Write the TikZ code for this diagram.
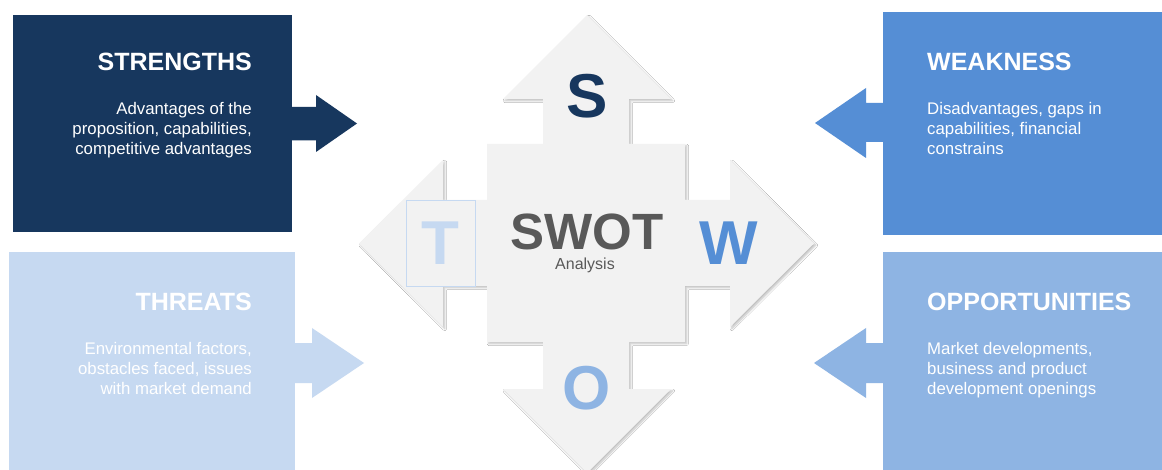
\documentclass[tikz,border=0pt]{standalone}
\usepackage{fontspec}
\setmainfont{Liberation Sans}
\usetikzlibrary{shadows.blur}
\definecolor{cS}{HTML}{17375E}
\definecolor{cW}{HTML}{558ED5}
\definecolor{cT}{HTML}{C6D9F1}
\definecolor{cO}{HTML}{8EB4E3}
\definecolor{crossfill}{HTML}{F2F2F2}
\definecolor{swotgray}{HTML}{595959}
\begin{document}
\begin{tikzpicture}[x=1pt,y=-1pt,
  box/.style={inner sep=0pt, anchor=north west},
  title/.style={font=\fontsize{25}{30}\selectfont\bfseries, text=white, inner sep=0pt},
  body/.style={font=\fontsize{16.8}{20.2}\selectfont, text=white, inner sep=0pt},
  letter/.style={font=\fontsize{62}{70}\selectfont\bfseries, inner sep=0pt},
  crossshape/.style={fill=crossfill, blur shadow={shadow xshift=1.8pt, shadow yshift=-1.8pt, shadow blur steps=6, shadow opacity=25, shadow blur radius=1.8pt}}]

\useasboundingbox[fill=white] (0,0) rectangle (1162,470);

% boxes
\node[box, fill=cS, minimum width=279pt, minimum height=217pt] (sbox) at (13,15) {};
\node[box, fill=cW, minimum width=279pt, minimum height=223pt] (wbox) at (883,12) {};
\node[box, fill=cT, minimum width=286pt, minimum height=218pt] (tbox) at (9,252) {};
\node[box, fill=cO, minimum width=279pt, minimum height=218pt] (obox) at (883,252) {};

% box arrows
\fill[cS] (291,107) -- (316,107) -- (316,95) -- (357,123.5) -- (316,152) -- (316,140.5) -- (291,140.5) -- cycle;
\fill[cW] (884,103) -- (866,103) -- (866,88) -- (815,123) -- (866,158) -- (866,142) -- (884,142) -- cycle;
\fill[cT] (294,343) -- (312,343) -- (312,328) -- (364,363) -- (312,398) -- (312,383) -- (294,383) -- cycle;
\fill[cO] (884,343) -- (866,343) -- (866,328) -- (814,363) -- (866,398) -- (866,383) -- (884,383) -- cycle;

% box texts
\node[title, anchor=base east] (stitle) at (252,71) {STRENGTHS};
\node[body, align=right, anchor=north east] (sbody) at (252,102) {Advantages of the\\proposition, capabilities,\\competitive advantages};
\node[title, anchor=base west] (wtitle) at (927,71) {WEAKNESS};
\node[body, align=left, anchor=north west] (wbody) at (927,102) {Disadvantages, gaps in\\capabilities, financial\\constrains};
\node[title, anchor=base east] (ttitle) at (252,311) {THREATS};
\node[body, align=right, anchor=north east] (tbody) at (252,342) {Environmental factors,\\obstacles faced, issues\\with market demand};
\node[title, anchor=base west] (otitle) at (927,311) {OPPORTUNITIES};
\node[body, align=left, anchor=north west] (obody) at (927,342) {Market developments,\\business and product\\development openings};

% central cross
\path[crossshape] (587,15) -- (671,99) -- (629,99) -- (629,144) -- (685,144) -- (685,200)
  -- (730,200) -- (730,160) -- (814,243.5) -- (730,327) -- (730,286) -- (685,286)
  -- (685,342) -- (629,342) -- (629,389) -- (671,389) -- (587,473) -- (503,389)
  -- (543,389) -- (543,342) -- (487,342) -- (487,286) -- (443,286) -- (443,327)
  -- (359,243.5) -- (443,160) -- (443,200) -- (487,200) -- (487,144) -- (543,144)
  -- (543,99) -- (503,99) -- cycle;

% T square
\node[draw=cT, line width=0.6pt, minimum width=69pt, minimum height=86pt, inner sep=0pt] (tsq) at (440.5,243) {};

% letters
\node[letter, text=cS] (lS) at (587,96.5) {S};
\node[letter, text=cW] (lW) at (729,243.5) {W};
\node[letter, text=cO] (lO) at (587,388.5) {O};
\node[letter, text=cT] (lT) at (440,243.5) {T};

\node[font=\fontsize{51}{60}\selectfont\bfseries, text=swotgray, inner sep=0pt, anchor=base] (swot) at (587,250) {SWOT};
\node[font=\fontsize{16}{19}\selectfont, text=swotgray, inner sep=0pt, anchor=base] (analysis) at (585,270) {Analysis};
\end{tikzpicture}
\end{document}
